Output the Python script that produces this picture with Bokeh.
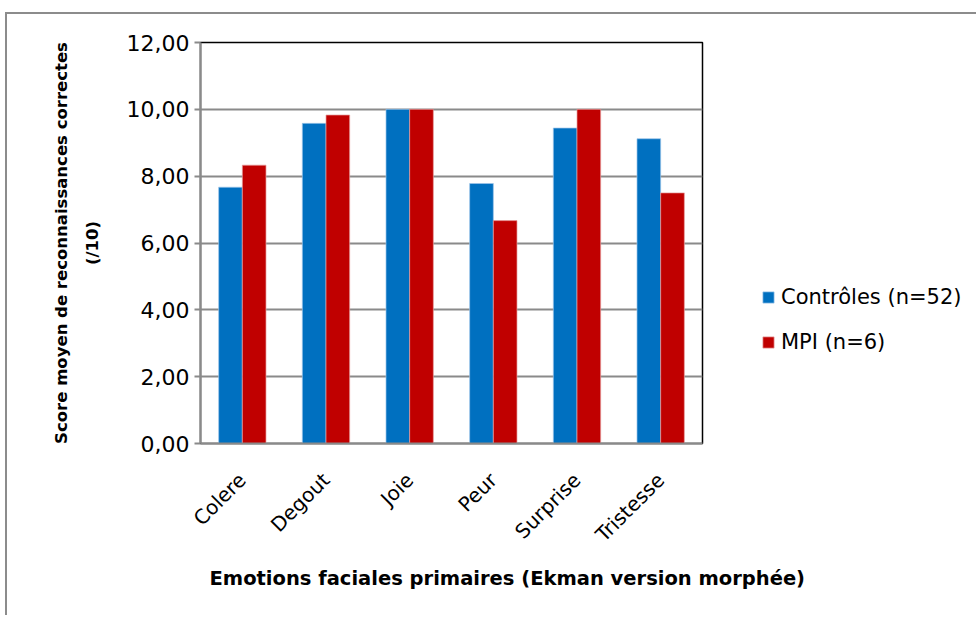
import math
from bokeh.plotting import figure
from bokeh.models import (ColumnDataSource, FixedTicker, CustomJSTickFormatter, Legend,
                          LegendItem, Title, Range1d)
from bokeh.transform import dodge
from bokeh.embed import file_html
from bokeh.resources import INLINE

categories = ["Colere", "Degout", "Joie", "Peur", "Surprise", "Tristesse"]
controles = [7.67, 9.58, 10.0, 7.78, 9.44, 9.12]
mpi = [8.33, 9.83, 10.0, 6.67, 10.0, 7.50]
series_names = ["Contrôles (n=52)", "MPI (n=6)"]
y_ticks = [0, 2, 4, 6, 8, 10, 12]

FONT = "DejaVu Sans"
GRID = "#8a8a8a"

src = ColumnDataSource(dict(cat=categories, c=controles, m=mpi))

p = figure(x_range=categories, y_range=Range1d(0, 12),
           frame_width=502, frame_height=401,
           output_backend="svg", toolbar_location=None,
           min_border_left=193, min_border_right=262, min_border_top=28,
           min_border_bottom=172)
p.styles = {"border-top": "2px solid #8c8c8c", "border-left": "2px solid #8c8c8c",
            "margin-top": "12px", "margin-left": "5px"}
p.x_range.range_padding = 0

bw = 0.283
r1 = p.vbar(x=dodge("cat", -bw / 2, range=p.x_range), top="c", width=bw, source=src,
            fill_color="#0070C0", line_color="#9fc6ea", line_width=0.7)
r2 = p.vbar(x=dodge("cat", bw / 2, range=p.x_range), top="m", width=bw, source=src,
            fill_color="#C00000", line_color="#e6a0a0", line_width=0.7)

# grid
p.xgrid.grid_line_color = None
p.ygrid.grid_line_color = GRID
p.ygrid.grid_line_width = 2
p.ygrid.ticker = FixedTicker(ticks=y_ticks)
p.outline_line_color = "#000000"
p.outline_line_width = 1.5

# y axis
p.yaxis.ticker = FixedTicker(ticks=y_ticks)
p.yaxis.formatter = CustomJSTickFormatter(code="return tick.toFixed(2).replace('.', ',');")
p.yaxis.axis_line_color = GRID
p.yaxis.axis_line_width = 2
p.yaxis.major_tick_line_color = GRID
p.yaxis.major_tick_line_width = 2
p.yaxis.major_tick_out = 6
p.yaxis.major_tick_in = 0
p.yaxis.minor_tick_line_color = None
p.yaxis.major_label_text_font = FONT
p.yaxis.major_label_text_font_size = "22px"
p.yaxis.major_label_text_color = "#000000"
p.yaxis.major_label_standoff = 5
p.yaxis.axis_label = "(/10)"
p.yaxis.axis_label_text_font = FONT
p.yaxis.axis_label_text_font_size = "16.5px"
p.yaxis.axis_label_text_font_style = "bold"
p.yaxis.axis_label_text_color = "#000000"
p.yaxis.axis_label_standoff = 22

# x axis
p.xaxis.axis_line_color = GRID
p.xaxis.axis_line_width = 2
p.xaxis.major_tick_line_color = None
p.xaxis.minor_tick_line_color = None
p.xaxis.major_label_orientation = math.pi / 4
p.xaxis.major_label_text_font = FONT
p.xaxis.major_label_text_font_size = "20px"
p.xaxis.major_label_text_color = "#000000"
p.xaxis.major_label_standoff = 27

# y-axis main title line
t_main = Title(text="Score moyen de reconnaissances correctes", align="center",
               text_font=FONT, text_font_size="16.5px", text_font_style="bold",
               text_color="#000000", standoff=18)
p.add_layout(t_main, "left")

t_x = Title(text="Emotions faciales primaires (Ekman version morphée)", align="left",
            text_font=FONT, text_font_size="19.5px", text_font_style="bold",
            text_color="#000000", offset=9, standoff=14)
p.add_layout(t_x, "below")

legend = Legend(items=[LegendItem(label=series_names[0], renderers=[r1]),
                       LegendItem(label=series_names[1], renderers=[r2])],
                location=(59, 89), glyph_width=14, glyph_height=14,
                label_text_font=FONT, label_text_font_size="21px",
                label_text_color="#000000", spacing=21, border_line_color=None,
                background_fill_alpha=0, label_standoff=6)
p.add_layout(legend, "right")

open("out.html", "w").write(file_html(p, INLINE))
